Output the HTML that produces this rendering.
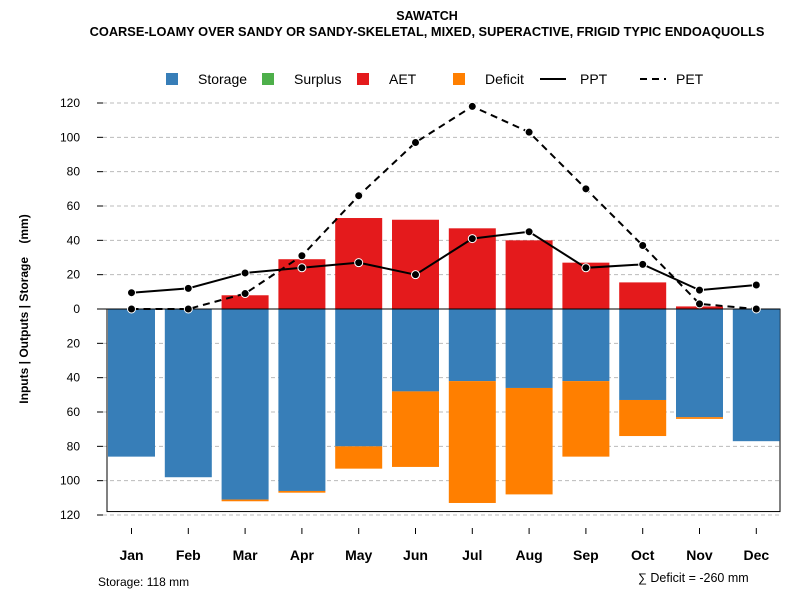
<!DOCTYPE html>
<html><head><meta charset="utf-8"><style>
body{margin:0;background:#fff;font-family:"Liberation Sans",sans-serif}
</style></head><body>
<svg id="c" width="800" height="600" xmlns="http://www.w3.org/2000/svg" font-family="Liberation Sans, sans-serif">
<text x="427" y="20" text-anchor="middle" font-size="12.5" font-weight="bold">SAWATCH</text>
<text x="427" y="36" text-anchor="middle" font-size="12.8" font-weight="bold">COARSE-LOAMY OVER SANDY OR SANDY-SKELETAL, MIXED, SUPERACTIVE, FRIGID TYPIC ENDOAQUOLLS</text>
<g id="legend" font-size="14">
<rect x="166" y="73" width="12" height="12" fill="#377eb8"/><text x="198" y="84">Storage</text>
<rect x="262" y="73" width="12" height="12" fill="#4daf4a"/><text x="294" y="84">Surplus</text>
<rect x="357" y="73" width="12" height="12" fill="#e41a1c"/><text x="389" y="84">AET</text>
<rect x="453" y="73" width="12" height="12" fill="#ff7f00"/><text x="485" y="84">Deficit</text>
<line x1="540" y1="79" x2="566" y2="79" stroke="#000" stroke-width="2"/><text x="580" y="84">PPT</text>
<line x1="640" y1="79" x2="666" y2="79" stroke="#000" stroke-width="2" stroke-dasharray="7,5"/><text x="676" y="84">PET</text>
</g>
<g id="grid"></g><g id="bars"></g><g id="lines"></g><g id="axes"></g>
<text transform="translate(28,309) rotate(-90)" text-anchor="middle" font-size="12" font-weight="bold" xml:space="preserve">Inputs | Outputs | Storage    (mm)</text>
<text x="98" y="586" font-size="12">Storage: 118 mm</text>
<text x="638" y="582" font-size="12.5">∑ Deficit = -260 mm</text>
</svg>
<script>
const months=["Jan","Feb","Mar","Apr","May","Jun","Jul","Aug","Sep","Oct","Nov","Dec"];
const storage=[86,98,111,106,80,48,42,46,42,53,63,77];
const deficit=[0,0,1,1,13,44,71,62,44,21,1,0];
const aet=[0,0,8,29,53,52,47,40,27,15.5,1.5,0];
const ppt=[9.5,12,21,24,27,20,41,45,24,26,11,14];
const pet=[0,0,9,31,66,97,118,103,70,37,3,0];
const yTicks=[120,100,80,60,40,20,0,-20,-40,-60,-80,-100,-120];
const storageCap=118;
const NS="http://www.w3.org/2000/svg";
const y0=309,k=206/120;
const Y=v=>y0-v*k;
const X=i=>131.5+i*56.8;
const bw=47;
function mk(t,a,p){const e=document.createElementNS(NS,t);for(const q in a)e.setAttribute(q,a[q]);p.appendChild(e);return e;}
const g=document.getElementById('grid'),b=document.getElementById('bars'),l=document.getElementById('lines'),ax=document.getElementById('axes');
yTicks.forEach(v=>{
 if(v!==0){const gl=mk('line',{x1:103,x2:780,y1:Y(v),y2:Y(v),stroke:'#bbb','stroke-dasharray':'4,3'},g);
 
 }
 const t=mk('line',{x1:97,x2:103,y1:Y(v),y2:Y(v),stroke:'#000'},ax);
 
 
 const tx=mk('text',{x:80,y:Y(v)+4,'text-anchor':'end','font-size':12},ax);tx.textContent=Math.abs(v);
 
 
});
const box=mk('rect',{x:107,y:y0,width:673,height:storageCap*k,fill:'none',stroke:'#000'},g);


months.forEach((m,i)=>{
 const x=X(i)-bw/2;
 const s=mk('rect',{x:x,y:y0,width:bw,height:storage[i]*k,fill:'#377eb8'},b);
 
 
 if(deficit[i]>0){const d=mk('rect',{x:x,y:Y(-storage[i]),width:bw,height:deficit[i]*k,fill:'#ff7f00'},b);
 
 }
 if(aet[i]>0){const a=mk('rect',{x:x,y:Y(aet[i]),width:bw,height:aet[i]*k,fill:'#e41a1c'},b);
 
 }
 const t=mk('line',{x1:X(i),x2:X(i),y1:528,y2:534,stroke:'#000'},ax);
 
 
 const tx=mk('text',{x:X(i),y:560,'text-anchor':'middle','font-size':14,'font-weight':'bold'},ax);tx.textContent=m;
 
 
});
const zl=mk('line',{x1:103,x2:780,y1:y0,y2:y0,stroke:'#000'},b);


function series(arr,dash,name){
 const p=mk('polyline',{points:arr.map((v,i)=>X(i)+','+Y(v)).join(' '),fill:'none',stroke:'#000','stroke-width':2,'stroke-dasharray':dash},l);
 
 
 arr.forEach((v,i)=>{const c=mk('circle',{cx:X(i),cy:Y(v),r:4,fill:'#000',stroke:'#fff','stroke-width':1},l);
 
 });
}
series(pet,'7,5','pet');
series(ppt,'none','ppt');
</script>
</body></html>
